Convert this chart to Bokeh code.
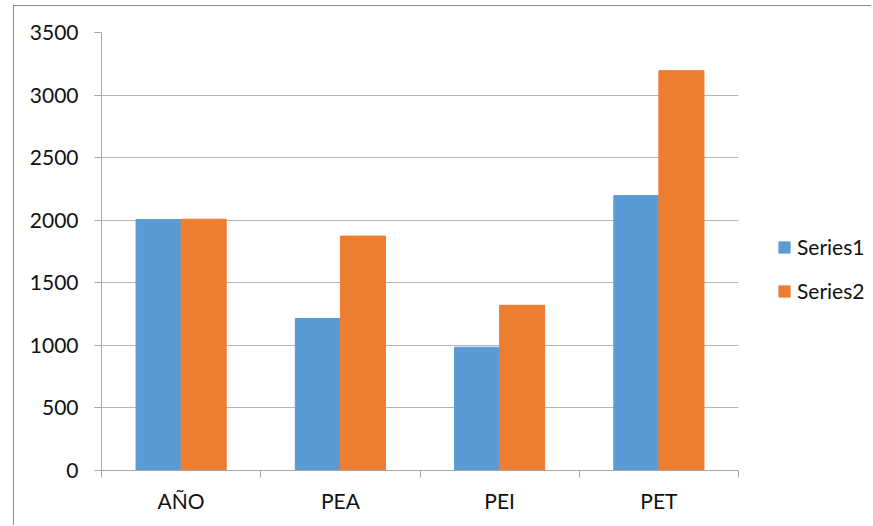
import numpy as np
from bokeh.plotting import figure
from bokeh.models import (Range1d, FixedTicker, Legend, LegendItem, BoxAnnotation,
                          ColumnDataSource, CustomJSTickFormatter)
from bokeh.transform import dodge
from bokeh.embed import file_html
from bokeh.resources import INLINE

categories = ["AÑO", "PEA", "PEI", "PET"]
series1 = [2005, 1215, 985, 2197]
series2 = [2008, 1873, 1320, 3195]
series_names = ["Series1", "Series2"]
y_ticks = [0, 500, 1000, 1500, 2000, 2500, 3000, 3500]

FONT = "Lato"
FSIZE = "21px"
BLUE = "#5B9BD5"
ORANGE = "#ED7D31"
AXIS = "#a6a6a6"
GRID = "#b4b4b4"

W, H = 858, 520
LEFT, TOP, BOTTOM = 87, 26, 56
PLOT_W = 637                      # pixel width of the category area
frame_w = W - LEFT
n = len(categories)
x_end = n * frame_w / PLOT_W      # extra room on the right holds the legend

centers = np.arange(n) + 0.5
bar_w = 0.283
off = 0.1415

src = ColumnDataSource(dict(x=centers, s1=series1, s2=series2))

p = figure(width=W, height=H, x_range=Range1d(0, x_end),
           y_range=Range1d(0, 3500), output_backend="svg", toolbar_location=None,
           min_border_left=LEFT, min_border_right=0, min_border_top=TOP,
           min_border_bottom=BOTTOM, margin=(5, 0, 0, 13))
p.styles = {"border-top": "1px solid #8c8c8c", "border-left": "1px solid #8c8c8c"}
p.outline_line_color = None
p.background_fill_color = "white"
p.border_fill_color = "white"

r1 = p.vbar(x=dodge("x", -off), top="s1", width=bar_w, source=src,
            fill_color=BLUE, line_color=BLUE)
r2 = p.vbar(x=dodge("x", off), top="s2", width=bar_w, source=src,
            fill_color=ORANGE, line_color=ORANGE)

# hide gridlines beyond the category area
mask = BoxAnnotation(left=n, fill_color="white", fill_alpha=1, line_color=None,
                     level="underlay")
p.add_layout(mask)

# x axis
xa = p.xaxis[0]
xa.bounds = (0, n)
xa.ticker = FixedTicker(ticks=list(centers), minor_ticks=list(range(n + 1)))
xa.formatter = CustomJSTickFormatter(args=dict(labels=categories),
                                     code="return labels[Math.floor(tick)];")
xa.major_tick_line_color = None
xa.major_tick_out = 0
xa.major_tick_in = 0
xa.minor_tick_out = 7
xa.minor_tick_in = 0
xa.minor_tick_line_color = AXIS
xa.axis_line_color = AXIS
xa.major_label_standoff = 10
xa.major_label_text_font = FONT
xa.major_label_text_font_size = FSIZE
xa.major_label_text_color = "#111111"

# y axis
ya = p.yaxis[0]
ya.ticker = FixedTicker(ticks=y_ticks, minor_ticks=[])
ya.major_tick_out = 7
ya.major_tick_in = 0
ya.major_tick_line_color = AXIS
ya.minor_tick_line_color = None
ya.axis_line_color = AXIS
ya.major_label_standoff = 16
ya.major_label_text_font = FONT
ya.major_label_text_font_size = FSIZE
ya.major_label_text_color = "#111111"

p.xgrid.grid_line_color = None
p.ygrid.grid_line_color = GRID
p.ygrid.ticker = FixedTicker(ticks=y_ticks)

legend = Legend(items=[LegendItem(label=series_names[0], renderers=[r1]),
                       LegendItem(label=series_names[1], renderers=[r2])],
                location=(676, 167), padding=0, margin=0, spacing=19,
                glyph_width=14, glyph_height=14, label_standoff=6,
                label_text_font=FONT, label_text_font_size=FSIZE,
                label_text_color="#111111",
                border_line_color=None, background_fill_alpha=0)
p.add_layout(legend)

open("out.html", "w").write(file_html(p, INLINE))
